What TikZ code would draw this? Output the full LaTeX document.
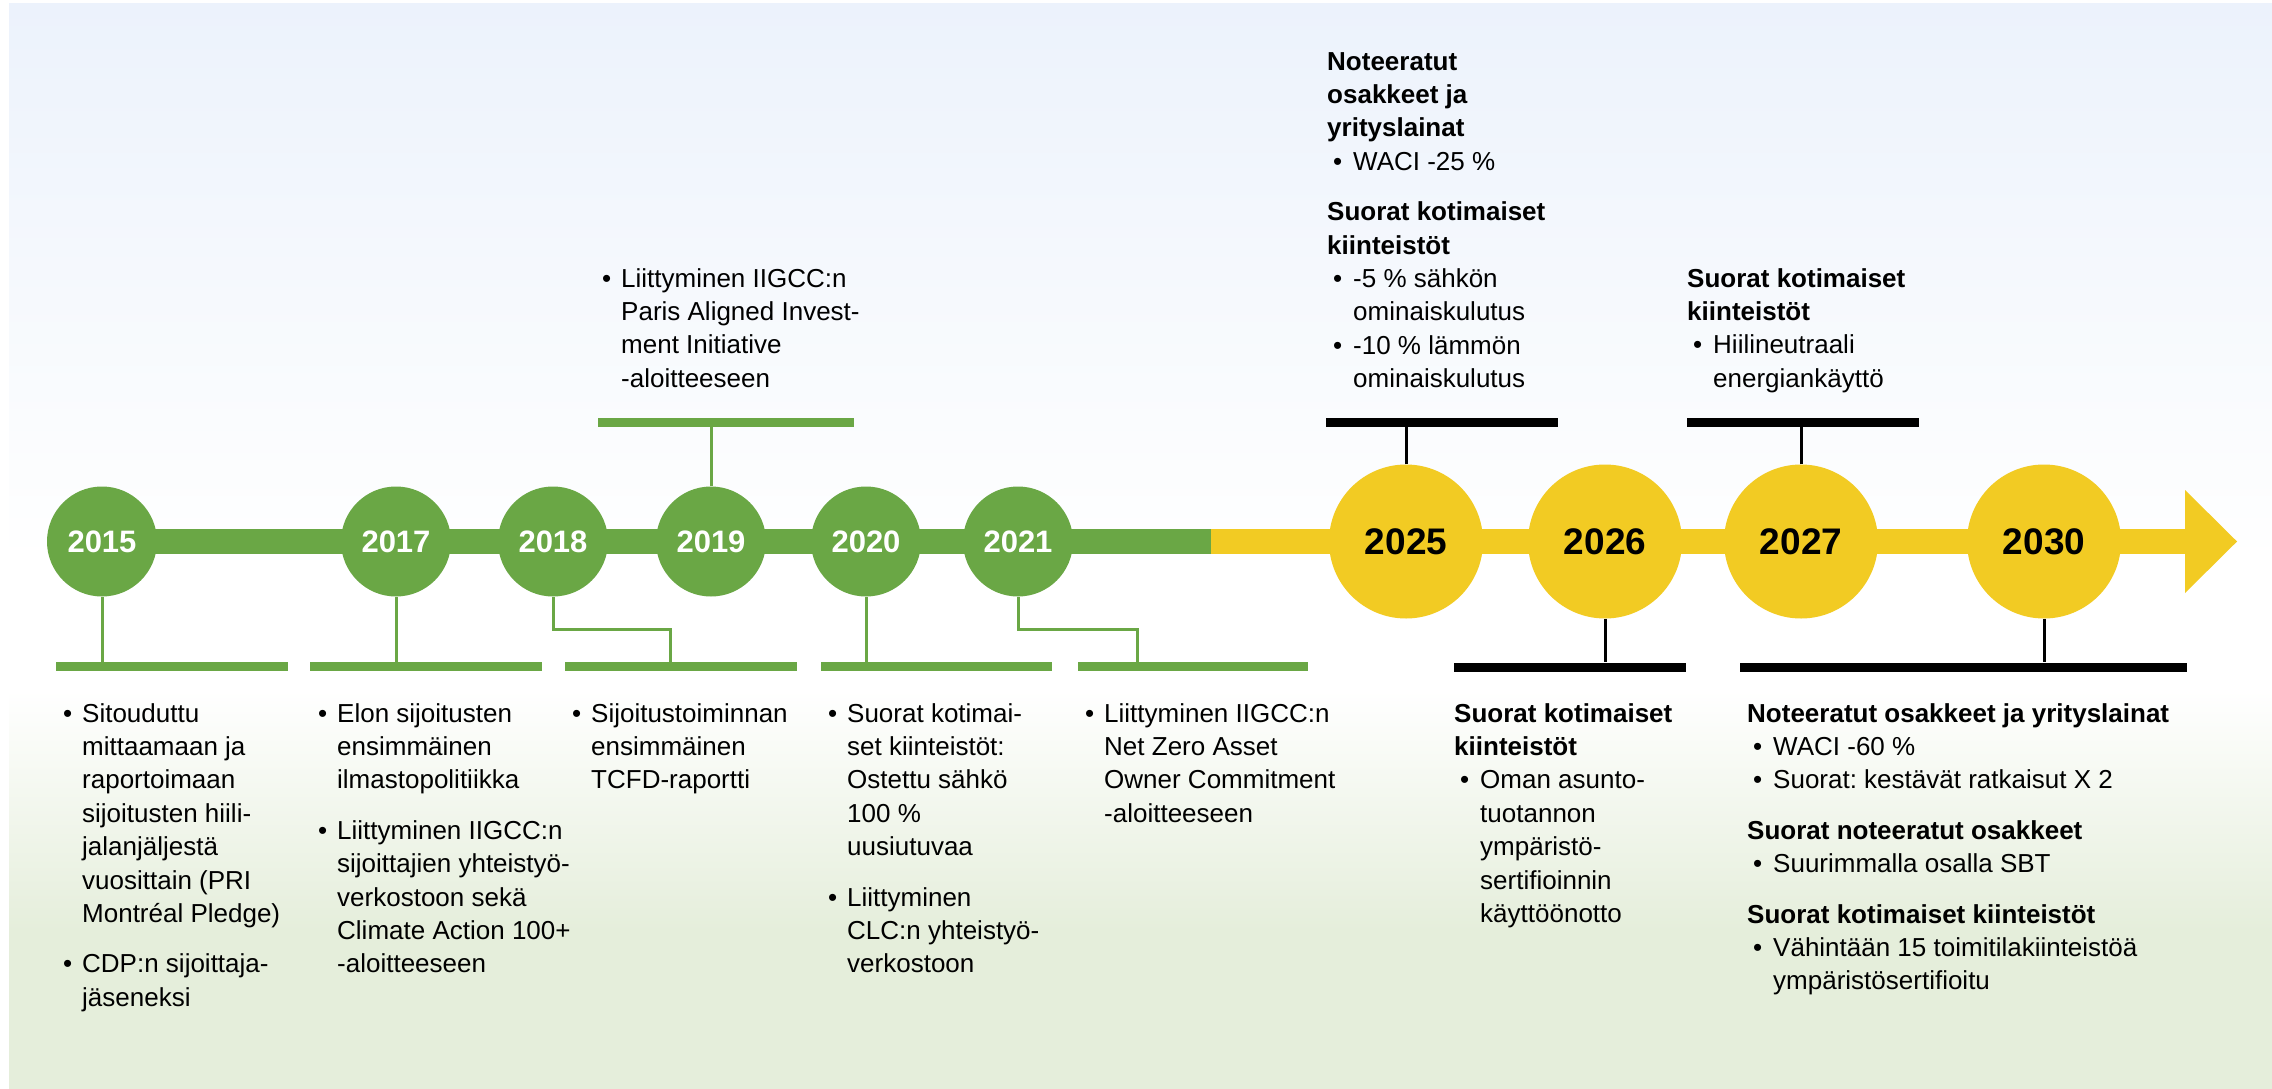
\documentclass[tikz,border=0pt]{standalone}
\usepackage{fontspec}
\setmainfont{Liberation Sans}
\usetikzlibrary{calc}
\frenchspacing
\definecolor{tlgreen}{RGB}{106,167,69}
\definecolor{tlyellow}{RGB}{242,203,35}
\definecolor{bgblue}{RGB}{236,242,252}
\definecolor{bgmid}{RGB}{246,249,253}
\definecolor{bggreen}{RGB}{229,238,219}
\newcommand\tlbul{\makebox[19pt][l]{•}}
\newcommand\tlind{\hspace*{19pt}}
\newcommand\hbul{\hspace*{6pt}\makebox[20pt][l]{•}}
\newcommand\hind{\hspace*{26pt}}
\tikzset{
  yearG/.style={circle, fill=tlgreen, minimum size=110pt, inner sep=0pt, text=white, font=\fontsize{31}{31}\selectfont\bfseries},
  yearY/.style={circle, fill=tlyellow, minimum size=154pt, inner sep=0pt, text=black, font=\fontsize{37}{37}\selectfont\bfseries},
  gbar/.style={rectangle, fill=tlgreen, inner sep=0pt, minimum height=9pt},
  kbar/.style={rectangle, fill=black, inner sep=0pt, minimum height=9pt},
  gline/.style={draw=tlgreen, line width=3pt},
  kline/.style={draw=black, line width=3pt},
  txt/.style={anchor=north west, align=left, inner sep=0pt, font=\fontsize{26}{33.4}\selectfont\frenchspacing}
}
\begin{document}
\begin{tikzpicture}[x=1pt,y=-1pt]
\useasboundingbox (0,0) rectangle (2272,1089);
% background
\fill[white] (0,0) rectangle (2272,1089);
\shade[top color=bgblue, bottom color=bgmid] (9,4) rectangle (2272,301);
\shade[top color=bgmid, bottom color=white] (9,300) rectangle (2272,561);
\fill[white] (9,560) rectangle (2272,691);
\shade[top color=white, bottom color=bggreen] (9,690) rectangle (2272,931);
\fill[bggreen] (9,930) rectangle (2272,1089);

% main time bar
\fill[tlgreen] (100,529) rectangle (1212,554);
\fill[tlyellow] (1211,529) rectangle (2186,554);
\fill[tlyellow] (2185,490) -- (2237,541.5) -- (2185,593) -- cycle;

% bars
\node[gbar, minimum width=232pt] (b15) at (172,666.5) {};
\node[gbar, minimum width=232pt] (b17) at (426,666.5) {};
\node[gbar, minimum width=232pt] (b18) at (681,666.5) {};
\node[gbar, minimum width=231pt] (b20) at (936.5,666.5) {};
\node[gbar, minimum width=230pt] (b21) at (1193,666.5) {};
\node[gbar, minimum width=256pt] (b19) at (726,422.5) {};
\node[kbar, minimum width=232pt] (k25) at (1442,422.5) {};
\node[kbar, minimum width=232pt] (k27) at (1803,422.5) {};
\node[kbar, minimum width=232pt] (k26) at (1570,667) {};
\node[kbar, minimum width=447pt] (k30) at (1963.5,667) {};

% year circles
\node[yearG] (c15) at (102,541.5) {2015};
\node[yearG] (c17) at (396,541.5) {2017};
\node[yearG] (c18) at (553,541.5) {2018};
\node[yearG] (c19) at (711,541.5) {2019};
\node[yearG] (c20) at (866,541.5) {2020};
\node[yearG] (c21) at (1018,541.5) {2021};
\node[yearY] (c25) at (1406,541.5) {2025};
\node[yearY] (c26) at (1605,541.5) {2026};
\node[yearY] (c27) at (1801,541.5) {2027};
\node[yearY] (c30) at (2044,541.5) {2030};

% connectors
\coordinate (e18) at (670,629);
\coordinate (e21) at (1137,629);
\draw[gline] (c15.south) -- (c15.south |- b15.north);
\draw[gline] (c17.south) -- (c17.south |- b17.north);
\draw[gline] (c18.south) |- (e18) -- (e18 |- b18.north);
\draw[gline] (c20.south) -- (c20.south |- b20.north);
\draw[gline] (c21.south) |- (e21) -- (e21 |- b21.north);
\draw[gline] (c19.north) -- (c19.north |- b19.south);
\draw[kline] (c25.north) -- (c25.north |- k25.south);
\draw[kline] (c27.north) -- (c27.north |- k27.south);
\draw[kline] (c26.south) -- (c26.south |- k26.north);
\draw[kline] (c30.south) -- (c30.south |- k30.north);

% texts below (green) -- first baseline 722
\node[txt] (t15) at (63,698.6) {\strut\tlbul Sitouduttu\\ \tlind mittaamaan ja\\ \tlind raportoimaan\\ \tlind sijoitusten hiili-\\ \tlind jalanjäljestä\\ \tlind vuosittain (PRI\\ \tlind Montréal Pledge)\\[17pt] \tlbul CDP:n sijoittaja-\\ \tlind jäseneksi};
\node[txt] (t17) at (318,698.6) {\strut\tlbul Elon sijoitusten\\ \tlind ensimmäinen\\ \tlind ilmastopolitiikka\\[17pt] \tlbul Liittyminen IIGCC:n\\ \tlind sijoittajien yhteistyö-\\ \tlind verkostoon sekä\\ \tlind Climate Action 100+\\ \tlind -aloitteeseen};
\node[txt] (t18) at (572,698.6) {\strut\tlbul Sijoitustoiminnan\\ \tlind ensimmäinen\\ \tlind TCFD-raportti};
\node[txt] (t20) at (828,698.6) {\strut\tlbul Suorat kotimai-\\ \tlind set kiinteistöt:\\ \tlind Ostettu sähkö\\ \tlind 100 \%\\ \tlind uusiutuvaa\\[17pt] \tlbul Liittyminen\\ \tlind CLC:n yhteistyö-\\ \tlind verkostoon};
\node[txt] (t21) at (1085,698.6) {\strut\tlbul Liittyminen IIGCC:n\\ \tlind Net Zero Asset\\ \tlind Owner Commitment\\ \tlind -aloitteeseen};

% text above 2019 -- first baseline 287
\node[txt] (t19) at (602,263.6) {\strut\tlbul Liittyminen IIGCC:n\\ \tlind Paris Aligned Invest-\\ \tlind ment Initiative\\ \tlind -aloitteeseen};

% targets
\node[txt] (t25) at (1327,46.6) {\strut\textbf{Noteeratut}\\ \textbf{osakkeet ja}\\ \textbf{yrityslainat}\\ \hbul WACI -25 \%\\[17pt] \textbf{Suorat kotimaiset}\\ \textbf{kiinteistöt}\\ \hbul -5 \% sähkön\\ \hind ominaiskulutus\\ \hbul -10 \% lämmön\\ \hind ominaiskulutus};
\node[txt] (t27) at (1687,263.6) {\strut\textbf{Suorat kotimaiset}\\ \textbf{kiinteistöt}\\ \hbul Hiilineutraali\\ \hind energiankäyttö};
\node[txt] (t26) at (1454,698.6) {\strut\textbf{Suorat kotimaiset}\\ \textbf{kiinteistöt}\\ \hbul Oman asunto-\\ \hind tuotannon\\ \hind ympäristö-\\ \hind sertifioinnin\\ \hind käyttöönotto};
\node[txt] (t30) at (1747,698.6) {\strut\textbf{Noteeratut osakkeet ja yrityslainat}\\ \hbul WACI -60 \%\\ \hbul Suorat: kestävät ratkaisut X 2\\[17pt] \textbf{Suorat noteeratut osakkeet}\\ \hbul Suurimmalla osalla SBT\\[17pt] \textbf{Suorat kotimaiset kiinteistöt}\\ \hbul Vähintään 15 toimitilakiinteistöä\\ \hind ympäristösertifioitu};
\end{tikzpicture}
\end{document}
